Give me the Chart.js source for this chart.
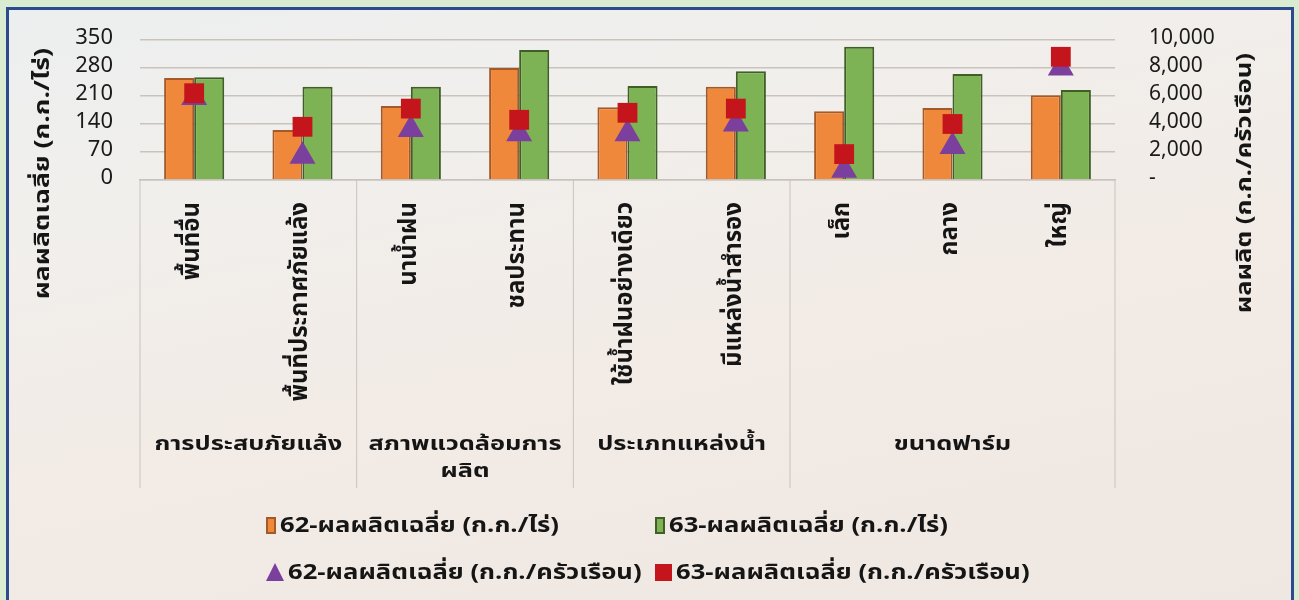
<!DOCTYPE html>
<html>
<head>
<meta charset="utf-8">
<script src="https://cdn.jsdelivr.net/npm/chart.js@4.4.1/dist/chart.umd.min.js"></script>
<style>
    html, body { margin: 0; padding: 0; }
    body { width: 1299px; height: 600px; overflow: hidden; background: #d9ebd1; position: relative; }
    .panel {
        position: absolute; left: 6px; top: 7px; width: 1282px; height: 610px;
        border: 3px solid #2c4b8e;
        background: linear-gradient(168deg, #ecefef 0%, #f1efec 25%, #f2ebe6 55%, #efe7e1 100%);
    }
    .wrap { position: absolute; left: 0; top: 0; width: 1299px; height: 600px; }
    .legend { position: absolute; left: 0; top: 0; font-family: 'Noto Sans Thai', Tahoma, 'Noto Sans', 'DejaVu Sans', sans-serif; font-weight: bold; font-size: 21px; color: #151515; }
    .item { position: absolute; display: flex; align-items: center; white-space: nowrap; }
    .icon { display: inline-block; margin-right: 4px; }
    .txt { display: inline-block; transform: scaleX(1.22); transform-origin: left center; }
</style>
</head>
<body>
<div class="panel"></div>
<div class="wrap"><canvas id="chart"></canvas></div>
<div class="legend" id="legend"></div>
<script>
const FONT = "'Noto Sans Thai', Tahoma, 'Noto Sans', 'DejaVu Sans', sans-serif";

const categories = ['พื้นที่อื่น', 'พื้นที่ประกาศภัยแล้ง', 'นาน้ำฝน', 'ชลประทาน', 'ใช้น้ำฝนอย่างเดียว', 'มีแหล่งน้ำสำรอง', 'เล็ก', 'กลาง', 'ใหญ่'];
const groups = [
    { label: ['การประสบภัยแล้ง'], from: 0, to: 1 },
    { label: ['สภาพแวดล้อมการ', 'ผลิต'], from: 2, to: 3 },
    { label: ['ประเภทแหล่งน้ำ'], from: 4, to: 5 },
    { label: ['ขนาดฟาร์ม'], from: 6, to: 8 }
];
const yieldRai62 = [255, 125, 185, 280, 182, 233, 172, 180, 212];
const yieldRai63 = [257, 233, 233, 325, 235, 272, 333, 265, 225];
const yieldHh62 = [5900, 1700, 3600, 3300, 3300, 4000, 700, 2400, 8000];
const yieldHh63 = [6200, 3800, 5100, 4300, 4800, 5100, 1850, 4000, 8800];
const seriesNames = ['62-ผลผลิตเฉลี่ย (ก.ก./ไร่)', '63-ผลผลิตเฉลี่ย (ก.ก./ไร่)', '62-ผลผลิตเฉลี่ย (ก.ก./ครัวเรือน)', '63-ผลผลิตเฉลี่ย (ก.ก./ครัวเรือน)'];
const leftTitle = 'ผลผลิตเฉลี่ย (ก.ก./ไร่)';
const rightTitle = 'ผลผลิต (ก.ก./ครัวเรือน)';

const GRID = '#c9c3bd';

// draws stretched text (the original font is wider than Noto Sans Thai)
function wideText(ctx, text, x, y, rot, align, stretch) {
    ctx.save();
    ctx.translate(x, y);
    ctx.rotate(rot);
    ctx.scale(stretch, 1);
    ctx.textAlign = align;
    ctx.fillText(text, 0, 0);
    ctx.restore();
}

// group labels, separators and the two axis titles
const extras = {
    id: 'extras',
    afterDraw(chart) {
        const { ctx, chartArea } = chart;
        const x = chart.scales.x;
        const edge = i => (x.getPixelForValue(i) + x.getPixelForValue(i + 1)) / 2;
        ctx.save();
        ctx.strokeStyle = GRID;
        ctx.lineWidth = 1;
        const lines = [chartArea.left, edge(1), edge(3), edge(5), chartArea.right];
        lines.forEach(px => {
            ctx.beginPath();
            ctx.moveTo(px, chartArea.bottom);
            ctx.lineTo(px, 488);
            ctx.stroke();
        });
        ctx.fillStyle = '#151515';
        ctx.font = `bold 20px ${FONT}`;
        ctx.textBaseline = 'middle';
        groups.forEach(g => {
            const left = g.from === 0 ? chartArea.left : edge(g.from - 1);
            const right = g.to === categories.length - 1 ? chartArea.right : edge(g.to);
            g.label.forEach((t, k) => wideText(ctx, t, (left + right) / 2, 446 + k * 27, 0, 'center', 1.27));
        });
        ctx.font = `bold 21px ${FONT}`;
        wideText(ctx, leftTitle, 45, 48, -Math.PI / 2, 'right', 1.27);
        wideText(ctx, rightTitle, 1247, 53, -Math.PI / 2, 'right', 1.22);
        ctx.restore();
    }
};

// fixed axis sizes so the plot area sits where the original has it
const fitY = w => s => { s.width = w; s.paddingTop = 0; s.paddingBottom = 0; };

const chart = new Chart(document.getElementById('chart'), {
    data: {
        labels: categories,
        datasets: [
            {
                type: 'line', label: seriesNames[3], data: yieldHh63, yAxisID: 'y1', order: 0,
                showLine: false, pointStyle: 'rect', pointRadius: 14, pointHoverRadius: 14,
                backgroundColor: '#c3151b', borderColor: '#c3151b', borderWidth: 0
            },
            {
                type: 'line', label: seriesNames[2], data: yieldHh62, yAxisID: 'y1', order: 1,
                showLine: false, pointStyle: 'triangle', pointRadius: 15, pointHoverRadius: 15,
                backgroundColor: '#7b3f9e', borderColor: '#7b3f9e', borderWidth: 0
            },
            {
                type: 'bar', label: seriesNames[0], data: yieldRai62, yAxisID: 'y', order: 2,
                backgroundColor: '#f0883c', borderColor: '#a35a28', borderWidth: 2,
                barPercentage: 1, categoryPercentage: 0.555
            },
            {
                type: 'bar', label: seriesNames[1], data: yieldRai63, yAxisID: 'y', order: 3,
                backgroundColor: '#7db354', borderColor: '#3f5f26', borderWidth: 2,
                barPercentage: 1, categoryPercentage: 0.555
            }
        ]
    },
    options: {
        responsive: true,
        maintainAspectRatio: false,
        animation: false,
        layout: { padding: { top: 40, left: 0, right: 0, bottom: 0 } },
        plugins: {
            legend: { display: false },
            tooltip: { enabled: false }
        },
        scales: {
            x: {
                grid: { display: false },
                border: { display: true, color: GRID, width: 1.5 },
                ticks: {
                    autoSkip: false, minRotation: 90, maxRotation: 90, padding: 14,
                    color: '#151515', font: { family: FONT, size: 24, weight: 'bold' }
                },
                afterFit: s => { s.height = 420; }
            },
            y: {
                position: 'left', min: 0, max: 350,
                grid: { color: GRID, lineWidth: 1.5, drawTicks: false },
                border: { display: false },
                ticks: { autoSkip: false, stepSize: 70, padding: 27, color: '#1a1a1a', font: { family: FONT, size: 22 } },
                afterFit: fitY(140)
            },
            y1: {
                position: 'right', min: 0, max: 10000,
                grid: { display: false, drawTicks: false },
                border: { display: false },
                ticks: {
                    autoSkip: false, stepSize: 2000, padding: 34, color: '#1a1a1a', font: { family: FONT, size: 21 },
                    callback: v => v === 0 ? '-' : v.toLocaleString('en-US')
                },
                afterFit: fitY(184)
            }
        }
    },
    plugins: [extras]
});

// legend in two columns, like the original
function renderLegend() {
    const box = document.getElementById('legend');
    const icons = [
        '<span class="icon" style="width:6px;height:13px;background:#f0883c;border:2px solid #a35a28"></span>',
        '<span class="icon" style="width:6px;height:13px;background:#7db354;border:2px solid #3f5f26"></span>',
        '<span class="icon" style="width:18px;height:18px;background:#7b3f9e;clip-path:polygon(50% 0,100% 100%,0 100%)"></span>',
        '<span class="icon" style="width:17px;height:17px;background:#c3151b"></span>'
    ];
    const pos = [[266, 525], [655, 525], [266, 572], [655, 572]];
    seriesNames.forEach((name, i) => {
        const el = document.createElement('div');
        el.className = 'item';
        el.style.left = pos[i][0] + 'px';
        el.style.top = (pos[i][1] - 15) + 'px';
        el.style.height = '30px';
        el.innerHTML = icons[i] + '<span class="txt">' + name + '</span>';
        box.appendChild(el);
    });
}
renderLegend();
</script>
</body>
</html>
